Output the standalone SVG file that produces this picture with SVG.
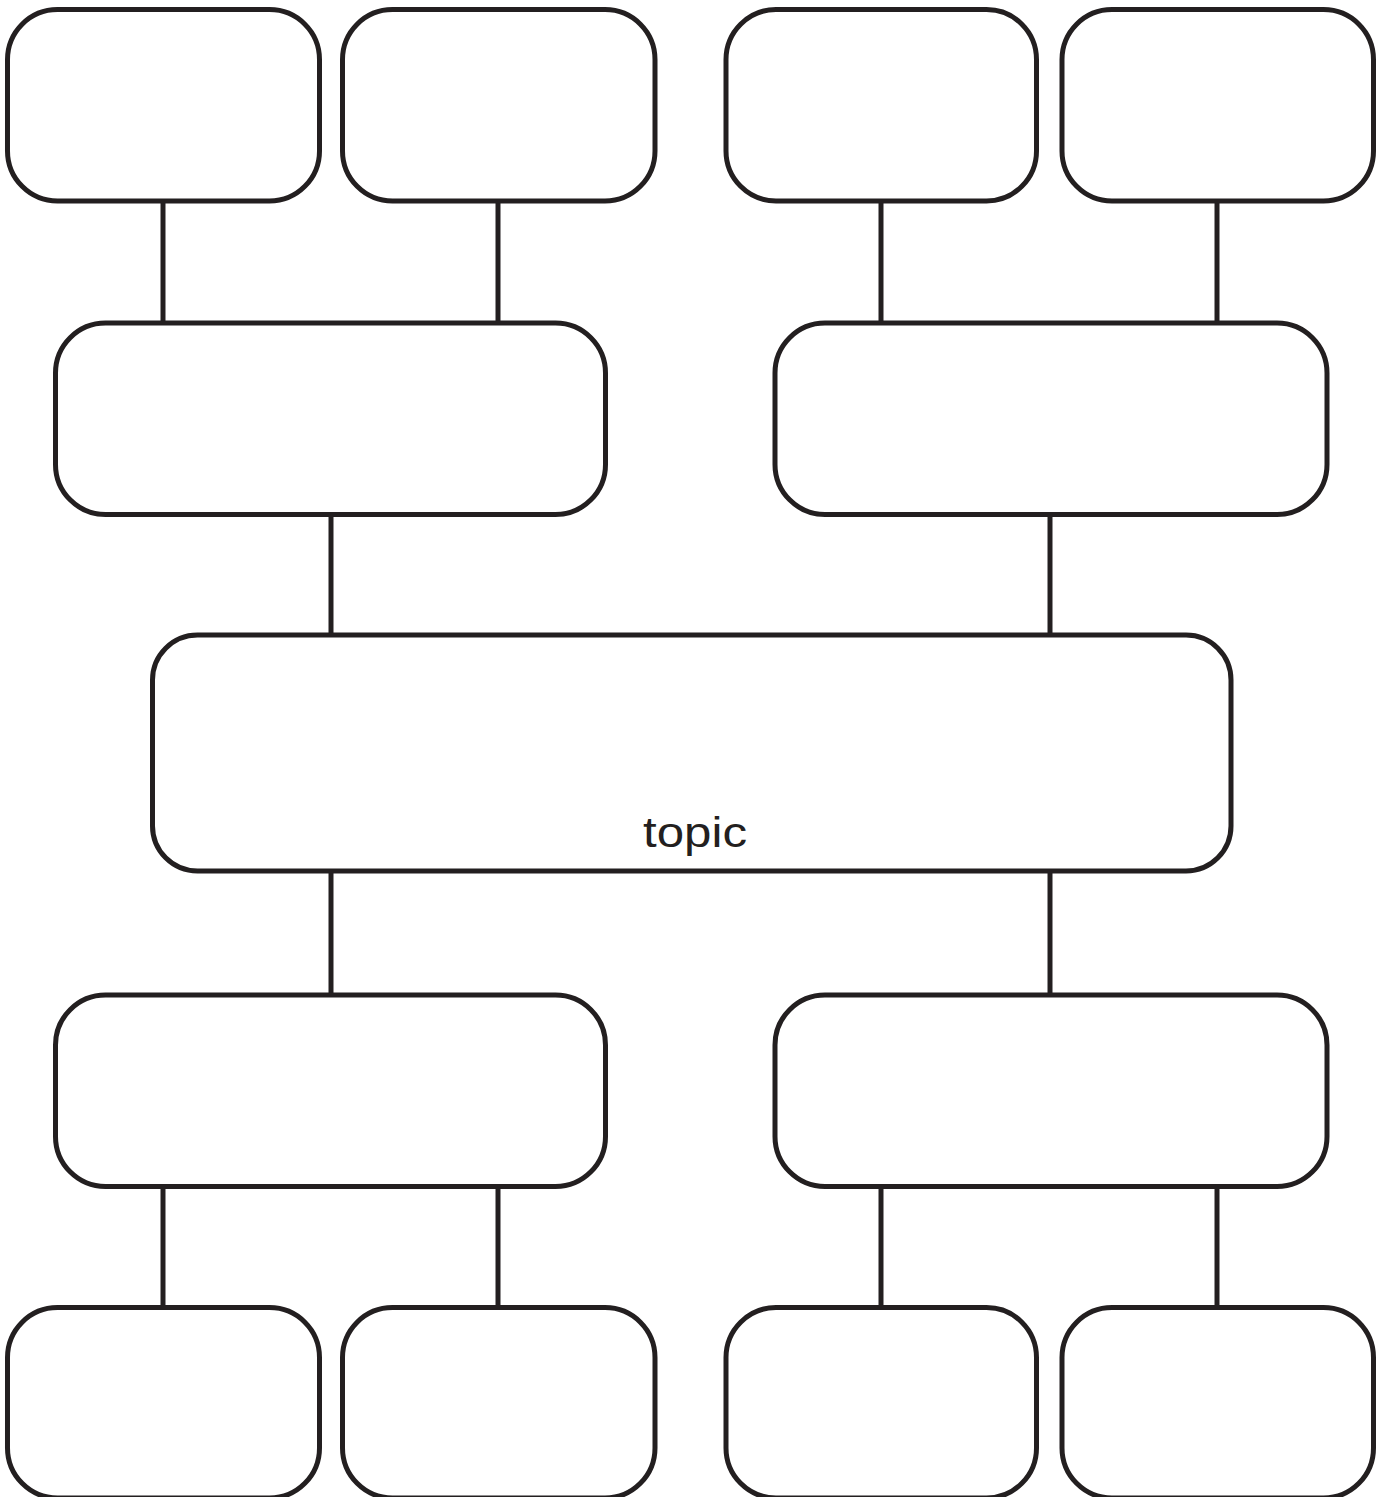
<svg xmlns="http://www.w3.org/2000/svg" width="1380" height="1497" viewBox="0 0 1380 1497">
<style>
.n{fill:#fff;stroke:#231f20;stroke-width:5}
.c{stroke:#231f20;stroke-width:5;fill:none}
.t{font-family:"Liberation Sans",Arial,sans-serif;font-size:42px;fill:#231f20}
</style>
<rect width="1380" height="1497" fill="#fff"/>
<g id="connectors">
<line class="c" x1="163" y1="201" x2="163" y2="323"/>
<line class="c" x1="498" y1="201" x2="498" y2="323"/>
<line class="c" x1="881" y1="201" x2="881" y2="323"/>
<line class="c" x1="1217" y1="201" x2="1217" y2="323"/>
<line class="c" x1="331" y1="514" x2="331" y2="635"/>
<line class="c" x1="1050" y1="514" x2="1050" y2="635"/>
<line class="c" x1="331" y1="871" x2="331" y2="995"/>
<line class="c" x1="1050" y1="871" x2="1050" y2="995"/>
<line class="c" x1="163" y1="1187" x2="163" y2="1307"/>
<line class="c" x1="498" y1="1187" x2="498" y2="1307"/>
<line class="c" x1="881" y1="1187" x2="881" y2="1307"/>
<line class="c" x1="1217" y1="1187" x2="1217" y2="1307"/>
</g>
<g id="n1"><rect class="n" x="7.5" y="9.5" width="312" height="191.5" rx="50"/></g>
<g id="n2"><rect class="n" x="342.5" y="9.5" width="312.5" height="191.5" rx="50"/></g>
<g id="n3"><rect class="n" x="726" y="9.5" width="310.5" height="191.5" rx="50"/></g>
<g id="n4"><rect class="n" x="1062" y="9.5" width="311.5" height="191.5" rx="50"/></g>
<g id="n5"><rect class="n" x="55.5" y="323" width="550" height="191.5" rx="50"/></g>
<g id="n6"><rect class="n" x="775" y="323" width="552" height="191.5" rx="50"/></g>
<g id="topic"><rect class="n" x="152.5" y="635" width="1078.5" height="236" rx="45"/>
<text class="t" x="695" y="847" text-anchor="middle" textLength="104" lengthAdjust="spacingAndGlyphs">topic</text></g>
<g id="n7"><rect class="n" x="55.5" y="995" width="550" height="191.5" rx="50"/></g>
<g id="n8"><rect class="n" x="775" y="995" width="552" height="191.5" rx="50"/></g>
<g id="n9"><rect class="n" x="7.5" y="1307.5" width="312" height="190.5" rx="50"/></g>
<g id="n10"><rect class="n" x="342.5" y="1307.5" width="312.5" height="190.5" rx="50"/></g>
<g id="n11"><rect class="n" x="726" y="1307.5" width="310.5" height="190.5" rx="50"/></g>
<g id="n12"><rect class="n" x="1062" y="1307.5" width="311.5" height="190.5" rx="50"/></g>
</svg>
